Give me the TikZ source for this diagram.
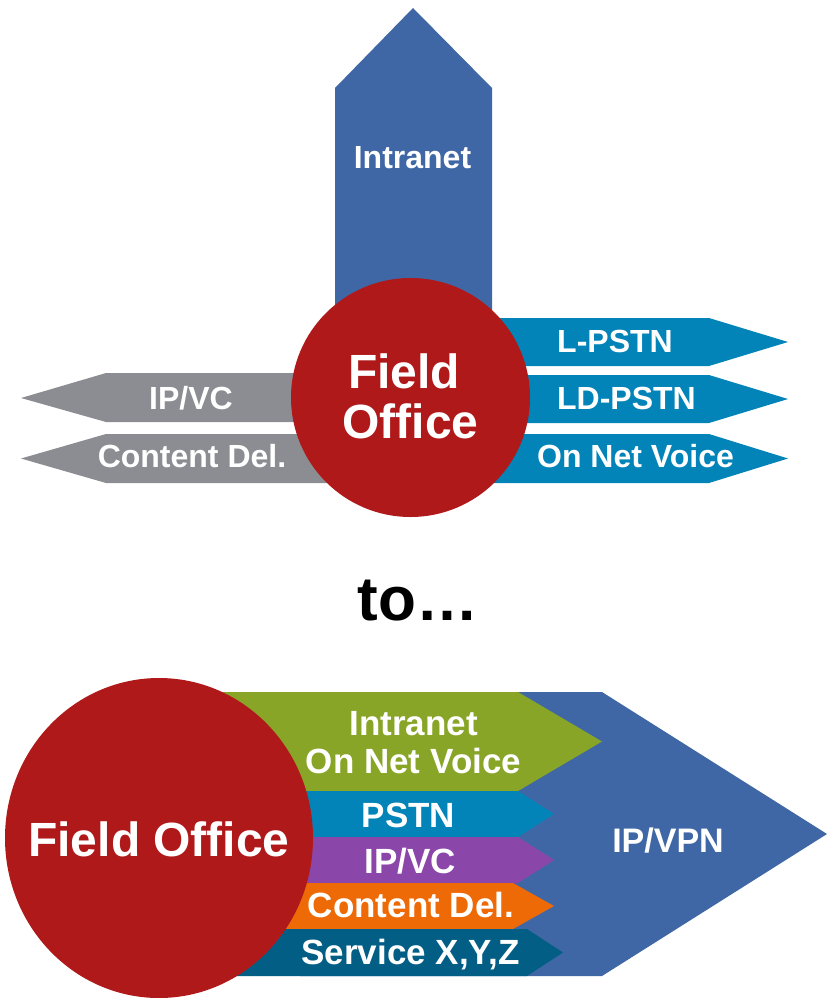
\documentclass[tikz,border=0pt]{standalone}
\usepackage{fontspec}
\setmainfont{Liberation Sans}
\definecolor{netblue}{RGB}{64,103,165}
\definecolor{officered}{RGB}{176,25,26}
\definecolor{oldgray}{RGB}{140,141,146}
\definecolor{pstncyan}{RGB}{2,132,185}
\definecolor{voicegreen}{RGB}{136,165,40}
\definecolor{vcpurple}{RGB}{139,70,170}
\definecolor{cdorange}{RGB}{238,106,6}
\definecolor{svcteal}{RGB}{3,94,133}
\begin{document}
\begin{tikzpicture}[x=1pt,y=-1pt,
        lbl/.style={text=white,font=\fontsize{32}{34}\selectfont\bfseries,anchor=base,inner sep=0pt},
        biglbl/.style={lbl,font=\fontsize{35}{37}\selectfont\bfseries},
        office/.style={text=white,font=\fontsize{48}{50}\selectfont\bfseries,anchor=base,inner sep=0pt}]
        \useasboundingbox (0,0) rectangle (828,998);

        \fill[netblue] (335,310) -- (335,88) -- (413,8) -- (492,88) -- (492,310) -- cycle;

        \fill[oldgray] (21,398) -- (106,373) -- (400,373) -- (400,422) -- (106,422) -- cycle;
        \fill[oldgray] (21,458.5) -- (106,434) -- (400,434) -- (400,483) -- (106,483) -- cycle;

        \fill[pstncyan] (420,318) -- (709,318) -- (788,342) -- (709,366) -- (420,366) -- cycle;
        \fill[pstncyan] (420,375) -- (709,375) -- (788,399) -- (709,423) -- (420,423) -- cycle;
        \fill[pstncyan] (420,434) -- (709,434) -- (788,458.5) -- (709,483) -- (420,483) -- cycle;

        \fill[officered] (410.5,397.5) circle (119.5);

        \node[lbl] (intranet) at (412.5,168) {Intranet};
        \node[lbl] (ipvc) at (191,409) {IP/VC};
        \node[lbl] (content) at (192,467) {Content Del.};
        \node[lbl] (lpstn) at (615,352) {L-PSTN};
        \node[lbl] (ldpstn) at (626.5,409) {LD-PSTN};
        \node[lbl] (onnet) at (635.5,467) {On Net Voice};
        \node[office] (field) at (404,388) {Field};
        \node[office] (office) at (410.5,438) {Office};

        \node[anchor=base,inner sep=0pt,font=\fontsize{62}{64}\selectfont\bfseries] (to) at (418,620) {to…};

        \fill[netblue] (300,692) -- (602,692) -- (827,834) -- (602,976) -- (300,976) -- cycle;

        \fill[voicegreen] (180,692) -- (518,692) -- (602,741.5) -- (518,791) -- (180,791) -- cycle;
        \fill[pstncyan] (180,791) -- (518,791) -- (554,814) -- (518,837) -- (180,837) -- cycle;
        \fill[vcpurple] (180,837) -- (518,837) -- (554,860) -- (518,883) -- (180,883) -- cycle;
        \fill[cdorange] (180,883) -- (513,883) -- (554,906) -- (513,929) -- (180,929) -- cycle;
        \fill[svcteal] (180,929) -- (527,929) -- (563,952.5) -- (527,976) -- (180,976) -- cycle;

        \fill[officered] (159,838) ellipse [x radius=154, y radius=160];

        \node[office] (fieldoffice) at (159,856) {Field Office};
        \node[biglbl] (intranet2) at (413.5,735) {Intranet};
        \node[biglbl] (onnet2) at (413.5,773) {On Net Voice};
        \node[biglbl] (pstn) at (408.5,827) {PSTN};
        \node[biglbl] (ipvc2) at (410,873) {IP/VC};
        \node[biglbl] (content2) at (411,917) {Content Del.};
        \node[biglbl] (service) at (410.5,964) {Service X,Y,Z};
        \node[lbl,font=\fontsize{34}{36}\selectfont\bfseries] (ipvpn) at (668,852) {IP/VPN};
    \end{tikzpicture}
\end{document}
